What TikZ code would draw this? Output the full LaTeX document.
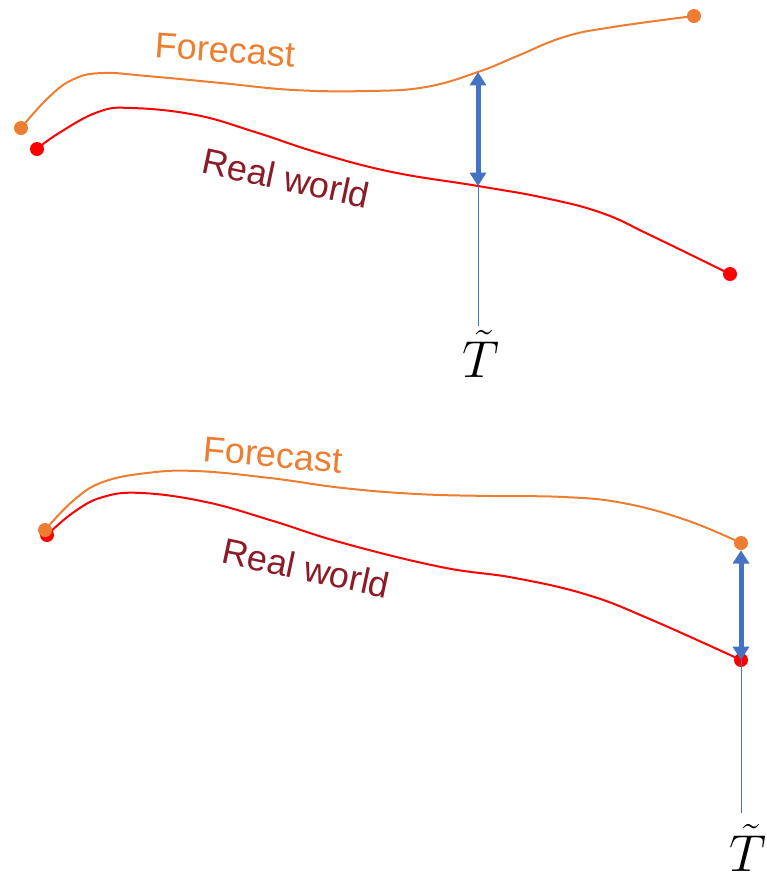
\RequirePackage{fix-cm}
\documentclass[tikz,border=0pt]{standalone}
\usepackage{amsmath}
\usepackage{fontspec}
\setmainfont{Liberation Sans}
\usetikzlibrary{arrows.meta,positioning}
\definecolor{fcorange}{HTML}{ED7D31}
\definecolor{rwred}{HTML}{FF0000}
\definecolor{rwdark}{HTML}{8C1A27}
\definecolor{gapblue}{HTML}{4472C4}
\tikzset{
  fdot/.style   ={circle, fill=fcorange, inner sep=0pt, minimum size=10.5pt},
  rdot/.style   ={circle, fill=rwred, inner sep=0pt, minimum size=10.5pt},
  fcurve/.style ={draw=fcorange, line width=1.5pt},
  rcurve/.style ={draw=rwred, line width=1.5pt},
  flbl/.style   ={text=fcorange, inner sep=0pt, font=\fontsize{27}{32}\selectfont},
  rlbl/.style   ={text=rwdark, inner sep=0pt, font=\fontsize{27}{32}\selectfont},
  gap/.style    ={{Triangle[width=12pt,length=10pt]}-{Triangle[width=12pt,length=10pt]},
                  draw=gapblue, line width=3.75pt},
  tline/.style  ={draw=gapblue, line width=0.75pt},
  tlbl/.style   ={inner sep=0pt, font=\fontsize{39}{46}\selectfont}
}

\begin{document}
\begin{tikzpicture}[x=0.75pt, y=-0.75pt]
\useasboundingbox (0,0) rectangle (767,876);

% upper panel: forecast and real world drift apart
\node[rdot] (ra1) at (37,149) {};
\node[rdot] (rb1) at (730,274) {};
\draw[rcurve] plot[smooth, tension=0.7] coordinates {(ra1.center) (59,133) (98,112)
  (132,108) (196,115) (255,132) (319,153) (392,172) (478,186) (545,198) (602,213)
  (650,235) (rb1.center)};
\node[fdot] (fa1) at (21,128) {};
\node[fdot] (fb1) at (694,16) {};
\draw[fcurve] plot[smooth, tension=0.7] coordinates {(fa1.center) (49,97) (74,79)
  (103,73) (147,76) (221,83) (294,90) (368,91) (426,87) (478,72) (515,57) (564,37)
  (613,27) (fb1.center)};
\node[flbl, rotate=-4] (fl1) at (225,50) {Forecast};
\node[rlbl, rotate=-12] (rl1) at (286,178) {Real world};
\coordinate (gt1) at (478,72);
\coordinate (gb1) at (478,186);
\coordinate (te1) at (478,326);
\draw[tline] (gb1) -- (te1);
\draw[gap] (gt1) -- (gb1);
\node[tlbl, below=3pt of te1, xshift=2pt] (tl1) {$\tilde{T}$};

% lower panel: compared only at the end
\node[rdot] (ra2) at (47,535) {};
\node[rdot] (rb2) at (741,660) {};
\draw[rcurve] plot[smooth, tension=0.7] coordinates {(ra2.center) (74,512) (103,497)
  (142,493) (206,502) (270,520) (343,543) (441,567) (515,578) (588,595) (652,620)
  (rb2.center)};
\node[fdot] (fa2) at (45,530) {};
\node[fdot] (fb2) at (741,543) {};
\draw[fcurve] plot[smooth, tension=0.7] coordinates {(fa2.center) (74,500) (103,482)
  (147,473) (196,471) (270,478) (343,488) (417,494) (490,496) (564,497) (623,503)
  (686,520) (fb2.center)};
\node[flbl, rotate=-5] (fl2) at (273,455) {Forecast};
\node[rlbl, rotate=-12] (rl2) at (306,568) {Real world};
\coordinate (te2) at (741,813);
\draw[tline] (rb2.center) -- (te2);
\draw[gap] (fb2) -- (rb2.center);
\node[tlbl, below=8pt of te2, xshift=5pt] (tl2) {$\tilde{T}$};
\end{tikzpicture}
\end{document}
